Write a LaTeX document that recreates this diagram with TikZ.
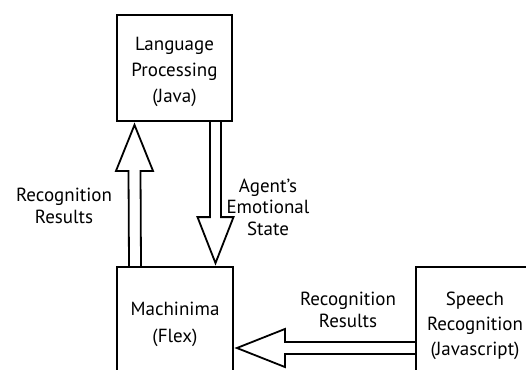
\documentclass[tikz,border=0pt]{standalone}
\usepackage{fontspec}
\setmainfont{PT Sans}
\usetikzlibrary{calc}
% centred lines with a fixed baseline distance; the box baseline is the first line
\newcommand\stacklines[2]{\vtop{\baselineskip=#1\lineskiplimit=-100pt\lineskip=0pt\halign{\hfil##\hfil\cr#2\crcr}}}
\begin{document}
\begin{tikzpicture}[x=1pt,y=-1pt,
  box/.style={draw, line width=1.8pt, inner sep=0pt},
  txt/.style={inner sep=0pt, anchor=base, font=\fontsize{19}{22}\selectfont},
  blk/.style={draw, line width=1.8pt, line join=miter}]
\useasboundingbox (0,0) rectangle (526,369);
\clip (0,0) rectangle (526,369);

% component boxes (the lower two run past the page edge)
\node[box, minimum width=115pt, minimum height=106pt] (lang) at (174.5,68) {};
\node[box, minimum width=116pt, minimum height=140pt] (mach) at (175,337) {};
\node[box, minimum width=190pt, minimum height=162pt] (speech) at (511,348) {};

% box texts
\node[txt] (langtxt) at (174.5,50) {\stacklines{26pt}{Language\cr Processing\cr (Java)}};
\node[txt] (machtxt) at (175,315) {\stacklines{27pt}{Machinima\cr (Flex)}};
\node[txt] (speechtxt) at (475,305) {\stacklines{25pt}{Speech\cr Recognition\cr (Javascript)}};

% hollow block arrow: Machinima -> Language Processing
\coordinate (upfrom) at ([xshift=-40pt]mach.north);
\coordinate (upto) at ($([xshift=-40pt]lang.south)+(0,3)$);
\coordinate (uphead) at ($(upto)+(0,46)$);
\draw[blk] ($(upfrom)+(-6,0)$) -- ($(uphead)+(-6,0)$) -- ($(uphead)+(-18.5,0)$)
  -- (upto) -- ($(uphead)+(18.5,0)$) -- ($(uphead)+(6,0)$) -- ($(upfrom)+(6,0)$);

% hollow block arrow: Language Processing -> Machinima
\coordinate (dnfrom) at ([xshift=41pt]lang.south);
\coordinate (dnto) at ($([xshift=40.5pt]mach.north)+(0,-3)$);
\coordinate (dnhead) at ($(dnto)+(0,-46)$);
\draw[blk] ($(dnfrom)+(-5.5,0)$) -- ($(dnhead)+(-5.5,0)$) -- ($(dnhead)+(-18,0)$)
  -- (dnto) -- ($(dnhead)+(18,0)$) -- ($(dnhead)+(5.5,0)$) -- ($(dnfrom)+(5.5,0)$);

% hollow block arrow: Speech Recognition -> Machinima
\coordinate (hfrom) at (speech.west);
\coordinate (hto) at ($(mach.east |- speech.west)+(3,0)$);
\coordinate (hhead) at ($(hto)+(48,0)$);
\draw[blk] ($(hfrom)+(0,-6)$) -- ($(hhead)+(0,-6)$) -- ($(hhead)+(0,-19)$)
  -- (hto) -- ($(hhead)+(0,19)$) -- ($(hhead)+(0,6)$) -- ($(hfrom)+(0,6)$);

% arrow labels
\node[txt] (uplbl) at (64,201) {\stacklines{22pt}{Recognition\cr Results}};
\node[txt] (dnlbl) at (268,192) {\stacklines{21.5pt}{Agent’s\cr Emotional\cr State}};
\node[txt] (hlbl) at (348,305) {\stacklines{22pt}{Recognition\cr Results}};
\end{tikzpicture}
\end{document}
